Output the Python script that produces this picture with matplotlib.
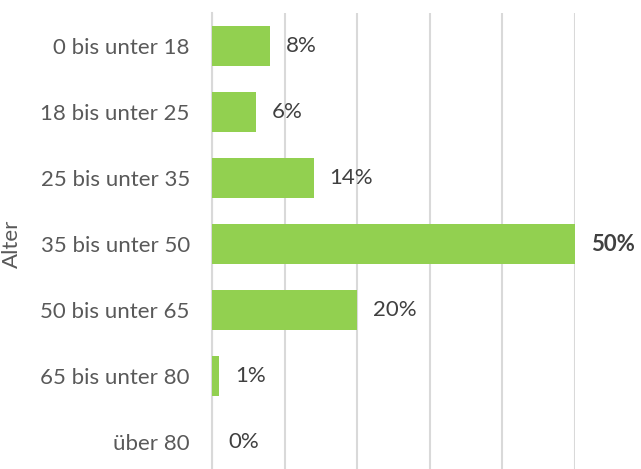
import matplotlib.pyplot as plt

# Daten
altersgruppen = ["0 bis unter 18", "18 bis unter 25", "25 bis unter 35",
                 "35 bis unter 50", "50 bis unter 65", "65 bis unter 80", "über 80"]
anteile = [8, 6, 14, 50, 20, 1, 0]   # Prozent

GRUEN = "#92d050"
plt.rcParams["font.family"] = ["Lato", "DejaVu Sans"]

fig = plt.figure(figsize=(6.41, 4.69), dpi=100)
ax = fig.add_axes([212 / 641, 1 - 475 / 469, (575 - 212) / 641, 462 / 469])

pos = list(range(len(altersgruppen)))
ax.barh(pos, anteile, height=0.62, color=GRUEN, zorder=3)

ax.set_xlim(0, 50)
ax.set_ylim(len(altersgruppen) - 0.5, -0.5)
ax.set_xticks(range(0, 51, 10))
ax.set_xticklabels([])
ax.tick_params(axis="x", length=0)
ax.tick_params(axis="y", length=0, pad=16, labelsize=16, labelcolor="#595959")
ax.set_yticks(pos)
ax.set_yticklabels(altersgruppen)
ax.grid(axis="x", color="#d9d9d9", linewidth=1.5, zorder=0)
ax.set_axisbelow(True)
for s in ["top", "right", "bottom"]:
    ax.spines[s].set_visible(False)
ax.spines["left"].set_color("#d9d9d9")
ax.spines["left"].set_linewidth(1.5)
ax.set_ylabel("Alter", fontsize=16, color="#595959")
ax.yaxis.set_label_coords((22 - 212) / 363, (475 - 244) / 462)

# Datenbeschriftungen
for p, v in zip(pos, anteile):
    fett = v == max(anteile)
    ax.annotate(f"{v}%", (v, p), xytext=(16, 0), textcoords="offset pixels",
                va="center", ha="left", fontsize=16, color="#404040",
                fontweight="bold" if fett else "normal", annotation_clip=False)

fig.savefig("out.png", dpi=100)
